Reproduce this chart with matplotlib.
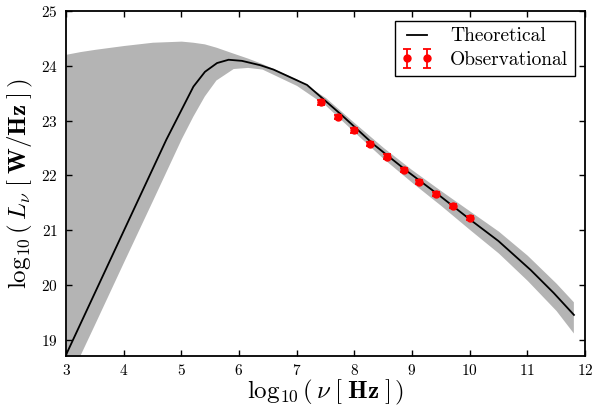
"""Spectral luminosity: theoretical model band vs observed points."""

import matplotlib
matplotlib.use("Agg")
import matplotlib.pyplot as plt

# theoretical curve (log10 nu, log10 L_nu)
theory_x = [3.0, 4.0, 4.74, 5.21, 5.41, 5.62, 5.82, 6.05, 6.37, 6.6, 7.18,
            7.76, 8.34, 8.91, 9.49, 10.01, 10.5, 11.06, 11.46, 11.81]
theory_y = [18.72, 20.98, 22.65, 23.62, 23.89, 24.05, 24.11, 24.09, 24.01,
            23.93, 23.65, 23.12, 22.56, 22.08, 21.62, 21.19, 20.8, 20.27,
            19.85, 19.45]

# model uncertainty band
band_x = [3.0, 3.25, 3.5, 4.0, 4.5, 5.0, 5.2, 5.4, 5.6, 5.9, 6.15, 6.4,
          7.0, 7.5, 8.0, 8.5, 9.0, 9.5, 10.0, 10.5, 11.0, 11.5, 11.8]
band_hi = [24.21, 24.26, 24.30, 24.37, 24.43, 24.45, 24.43, 24.40, 24.34,
           24.23, 24.14, 24.04, 23.76, 23.42, 22.96, 22.51, 22.10, 21.72,
           21.35, 20.98, 20.54, 20.03, 19.69]
band_lo = [18.17, 18.73, 19.29, 20.42, 21.54, 22.67, 23.08, 23.45, 23.74,
           23.95, 23.97, 23.94, 23.64, 23.28, 22.79, 22.31, 21.87, 21.45,
           21.01, 20.58, 20.08, 19.53, 19.12]

# observations
obs_x = [7.42, 7.71, 7.99, 8.28, 8.57, 8.86, 9.13, 9.42, 9.71, 10.0]
obs_y = [23.33, 23.07, 22.82, 22.57, 22.34, 22.10, 21.88, 21.66, 21.44, 21.22]
obs_err = [0.04] * 10


def main() -> None:
    plt.rcParams["font.family"] = "serif"
    plt.rcParams["font.serif"] = ["cmr10"]
    plt.rcParams["mathtext.fontset"] = "cm"
    plt.rcParams["axes.formatter.use_mathtext"] = True

    fig = plt.figure(figsize=(5.92, 4.08), dpi=100)
    ax = fig.add_axes([0.1115, 0.1275, 0.8765, 0.8455])

    ax.fill_between(band_x, band_lo, band_hi, color="#b4b4b4", lw=0)
    ax.plot(theory_x, theory_y, color="black", lw=1.3, label="Theoretical")
    ax.errorbar(obs_x, obs_y, yerr=obs_err, fmt="o", color="red", ms=5,
                elinewidth=1.3, capsize=3, capthick=1.3, mec="red",
                label="Observational")

    ax.set_xlim(3, 12)
    ax.set_ylim(18.7, 25)
    ax.set_xticks(range(3, 13))
    ax.set_yticks(range(19, 26))
    ax.tick_params(direction="in", top=True, right=True, length=4,
                   width=1, labelsize=11, pad=6)
    ax.tick_params(axis="x", pad=5)
    for sp in ax.spines.values():
        sp.set_linewidth(1.3)

    ax.set_xlabel(r"$\log_{10}(\,\nu\;[\;\mathbf{Hz}\;]\,)$", fontsize=18,
                  labelpad=0)
    ax.set_ylabel(r"$\log_{10}(\,L_\nu\;[\;\mathbf{W/Hz}\;]\,)$", fontsize=18,
                  labelpad=4)

    leg = ax.legend(loc="upper right", fontsize=14, numpoints=2,
                    fancybox=False, framealpha=1, handlelength=1.6,
                    handletextpad=0.9, borderaxespad=0.5, borderpad=0.35,
                    labelspacing=0.3)
    leg.get_frame().set_edgecolor("black")
    leg.get_frame().set_linewidth(1.0)

    fig.savefig("out.png", dpi=100)
    plt.close(fig)


if __name__ == "__main__":
    main()
